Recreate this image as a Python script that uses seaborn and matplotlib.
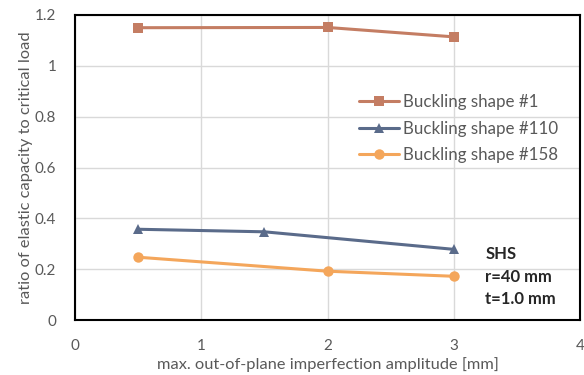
import matplotlib
matplotlib.use("Agg")
import matplotlib.pyplot as plt
import seaborn as sns
import pandas as pd

# Imperfection amplitudes [mm] and capacity ratios for each buckling shape
amp_shape1 = [0.5, 2.0, 3.0]
ratio_shape1 = [1.150, 1.151, 1.114]

amp_shape110 = [0.5, 1.5, 3.0]
ratio_shape110 = [0.357, 0.347, 0.278]

amp_shape158 = [0.5, 2.0, 3.0]
ratio_shape158 = [0.247, 0.192, 0.172]

labels = ["Buckling shape #1", "Buckling shape #110", "Buckling shape #158"]
colors = ["#C47D63", "#5A6B8A", "#F4A65B"]
markers = ["s", "^", "o"]

x_ticks = [0, 1, 2, 3, 4]
y_ticks = [0, 0.2, 0.4, 0.6, 0.8, 1.0, 1.2]
y_tick_labels = ["0", "0.2", "0.4", "0.6", "0.8", "1", "1.2"]

frames = []
for amps, ratios, lab in [(amp_shape1, ratio_shape1, labels[0]),
                          (amp_shape110, ratio_shape110, labels[1]),
                          (amp_shape158, ratio_shape158, labels[2])]:
    frames.append(pd.DataFrame({"amp": amps, "ratio": ratios, "shape": lab}))
df = pd.concat(frames, ignore_index=True)

sns.set_theme(style="white")
plt.rcParams["font.family"] = ["Lato", "DejaVu Sans"]

fig = plt.figure(figsize=(5.84, 3.75), dpi=100)
ax = fig.add_axes([75 / 584, 1 - 320 / 375, 505 / 584, 305 / 375])

sns.lineplot(data=df, x="amp", y="ratio", hue="shape", style="shape",
             hue_order=labels, style_order=labels,
             palette=colors, markers=markers, dashes=False,
             markersize=7.5, markeredgewidth=0, linewidth=2.2,
             sort=True, ax=ax)

ax.set_xlim(0, 4)
ax.set_ylim(0, 1.2)
ax.set_xticks(x_ticks)
ax.set_xticklabels([str(t) for t in x_ticks])
ax.set_yticks(y_ticks)
ax.set_yticklabels(y_tick_labels)
ax.grid(True, color="#D9D9D9", linewidth=1.0)
ax.set_axisbelow(True)
for sp in ax.spines.values():
    sp.set_color("black")
    sp.set_linewidth(1.5)

ax.tick_params(axis="both", colors="#595959", labelsize=11, length=0, pad=13.5)
ax.set_xlabel("max. out-of-plane imperfection amplitude [mm]",
              color="#595959", fontsize=11.8, labelpad=3)
ax.set_ylabel("ratio of elastic capacity to critical load",
              color="#595959", fontsize=11.8, labelpad=1)

leg = ax.legend(loc="upper left", bbox_to_anchor=(0.562, 0.74), frameon=False,
                fontsize=12.2, handlelength=2.35, handletextpad=0.25,
                labelspacing=0.62, borderaxespad=0, borderpad=0)
for t in leg.get_texts():
    t.set_color("#595959")

ax.text(3.25, 0.29, "SHS\nr=40 mm\nt=1.0 mm", fontsize=12, fontweight="bold",
        color="#262626", va="top", ha="left", linespacing=1.5)

fig.savefig("out.png", dpi=100)
